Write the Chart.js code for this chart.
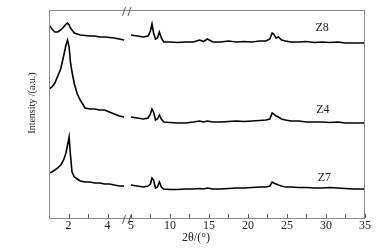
<!DOCTYPE html>
<html lang="en">
<head>
  <meta charset="UTF-8">
  <title>XRD patterns Z8 Z4 Z7</title>
  <style>
    body { margin: 0; background: #fff; }
  </style>
</head>
<body>
<canvas id="xrd" width="384" height="249"></canvas>
<script src="https://cdn.jsdelivr.net/npm/chart.js"></script>
<script>
  // 2theta grids for the two parts of the broken axis
  const leftTheta = [1.0, 1.15, 1.3, 1.45, 1.6, 1.75, 1.87, 1.95, 2.03, 2.1, 2.18, 2.3, 2.45, 2.6, 2.85, 3.1, 3.35, 3.6, 3.85, 4.1, 4.35, 4.6, 4.85];
  const rightTheta = [5.0, 5.8, 6.6, 7.2, 7.5, 7.7, 7.9, 8.15, 8.4, 8.65, 8.9, 9.2, 10, 11, 12, 13, 13.8, 14.3, 14.8, 15.5, 16.5, 17.5, 18.5, 19.5, 20.5, 21.5, 22.3, 22.8, 23.1, 23.3, 23.6, 23.9, 24.3, 24.8, 25.5, 26.5, 27.5, 28.5, 29.5, 30.5, 31.5, 32.5, 33.5, 35];

  // intensities (a.u., curves already stacked)
  const z8Left = [193, 189, 186, 186, 188, 191, 194, 195, 193, 190, 188, 185, 184, 183, 182.5, 182, 182, 181, 181, 180.5, 180, 179, 178];
  const z8Right = [183, 182, 181, 182, 187, 194, 185, 179, 180, 186, 180, 176, 176, 175.5, 176, 176, 178, 176.5, 179, 176, 176, 177, 176, 176.5, 176, 177, 177, 179, 185, 184, 180, 181, 178, 177, 176, 176, 176.5, 175.5, 176, 175.5, 176, 175, 175, 175];
  const z4Left = [129, 131, 135, 142, 149, 162, 173, 178, 171, 156, 146, 134, 124, 118, 110, 109, 109, 108, 108, 106, 104, 102, 101];
  const z4Right = [101, 100, 99, 100, 104, 109, 106, 98, 99, 103, 99, 96, 95.5, 95, 95, 96, 97, 96, 97, 96, 96, 96.5, 97, 96.5, 97, 97.5, 98, 99, 105, 104, 102, 101, 99, 98, 97, 97, 96, 96, 96, 95.5, 96, 95, 95, 95];
  const z7Left = [45, 46, 48, 50, 53, 58, 65, 73, 81, 63, 46, 41, 39, 37, 36, 36, 35, 35, 34, 34, 33, 32, 32];
  const z7Right = [33, 32, 31, 32, 34, 40, 38, 30, 31, 36, 31, 29, 28.5, 28.5, 29, 29, 29.5, 29, 30, 29, 29, 29.5, 30, 30, 30.5, 31, 31, 32, 36, 35, 34, 33, 32, 31, 31, 30.5, 30.5, 30, 30, 30.5, 30, 29.5, 29, 29];

  const seriesNames = ['Z8', 'Z4', 'Z7'];
  const labelTheta = [29.5, 29.6, 29.8];
  const labelIntensity = [190, 108, 40];

  const majorTicks = [2, 4, 5, 10, 15, 20, 25, 30, 35];
  const minorTicks = [3, 7.5, 12.5, 17.5, 22.5, 27.5, 32.5];

  // broken axis: 1-5 is stretched 2.5x, then a small gap, then 5-35
  function toAxis(t, side) {
    if (side === 'left') return 2.5 * (t - 1);
    return 10.5 + (t - 5);
  }
  function sideOf(t) { return t <= 4 ? 'left' : 'right'; }

  function pts(thetas, vals, side) {
    return thetas.map((t, i) => ({ x: toAxis(t, side), y: vals[i] }));
  }

  const lineStyle = { borderColor: '#000', borderWidth: 1.6, pointRadius: 0, tension: 0, fill: false };

  const datasets = [
    Object.assign({ data: pts(leftTheta, z8Left, 'left') }, lineStyle),
    Object.assign({ data: pts(rightTheta, z8Right, 'right') }, lineStyle),
    Object.assign({ data: pts(leftTheta, z4Left, 'left') }, lineStyle),
    Object.assign({ data: pts(rightTheta, z4Right, 'right') }, lineStyle),
    Object.assign({ data: pts(leftTheta, z7Left, 'left') }, lineStyle),
    Object.assign({ data: pts(rightTheta, z7Right, 'right') }, lineStyle)
  ];

  const serif = 'Liberation Serif';

  const decor = {
    id: 'decor',
    afterDatasetsDraw(chart) {
      const ctx = chart.ctx;
      const a = chart.chartArea;
      const xs = chart.scales.x;
      const ys = chart.scales.y;
      ctx.save();

      // frame
      ctx.strokeStyle = '#8a8a8a';
      ctx.lineWidth = 1;
      ctx.strokeRect(a.left + 0.5, a.top + 0.5, a.right - a.left - 1, a.bottom - a.top);

      // inward ticks
      ctx.strokeStyle = '#555';
      majorTicks.concat(minorTicks).forEach(t => {
        const px = Math.round(xs.getPixelForValue(toAxis(t, sideOf(t)))) + 0.5;
        ctx.beginPath();
        ctx.moveTo(px, a.bottom);
        ctx.lineTo(px, a.bottom - 4);
        ctx.stroke();
      });

      // break marks on top and bottom axes
      const gx = xs.getPixelForValue(10.25);
      [a.top + 1, a.bottom + 1].forEach(yy => {
        [-5, 0.5].forEach(dx => {
          ctx.beginPath();
          ctx.moveTo(gx + dx - 1.5, yy + 5);
          ctx.lineTo(gx + dx + 1.5, yy - 4);
          ctx.stroke();
        });
      });

      // series labels
      ctx.fillStyle = '#222';
      ctx.font = '12px "' + serif + '"';
      ctx.textAlign = 'center';
      ctx.textBaseline = 'middle';
      seriesNames.forEach((n, i) => {
        ctx.fillText(n, xs.getPixelForValue(toAxis(labelTheta[i], 'right')), ys.getPixelForValue(labelIntensity[i]));
      });

      // axis titles
      ctx.font = '12px "' + serif + '"';
      ctx.fillText('2\u03B8/(\u00B0)', 196, 238);
      ctx.translate(32, 103);
      ctx.rotate(-Math.PI / 2);
      ctx.font = '10px "' + serif + '"';
      ctx.fillText('Intensity /(a.u.)', 0, 0);
      ctx.restore();
    }
  };

  new Chart(document.getElementById('xrd').getContext('2d'), {
    type: 'line',
    data: { datasets: datasets },
    options: {
      responsive: false,
      animation: false,
      layout: { padding: { left: 49, right: 19, top: 10, bottom: 0 } },
      plugins: { legend: { display: false }, tooltip: { enabled: false } },
      scales: {
        x: {
          type: 'linear',
          min: 0,
          max: 40.5,
          grid: { display: false, drawTicks: false },
          border: { display: false },
          afterBuildTicks(scale) {
            scale.ticks = majorTicks.map(t => ({ value: toAxis(t, sideOf(t)) }));
          },
          afterFit(scale) { scale.height = 31; },
          ticks: {
            autoSkip: false,
            maxRotation: 0,
            padding: 1,
            color: '#222',
            font: { family: serif, size: 12 },
            callback(value) {
              const t = majorTicks.find(m => Math.abs(toAxis(m, sideOf(m)) - value) < 1e-6);
              return t === undefined ? '' : String(t);
            }
          }
        },
        y: {
          display: false,
          min: 0,
          max: 208
        }
      }
    },
    plugins: [decor]
  });
</script>
</body>
</html>
